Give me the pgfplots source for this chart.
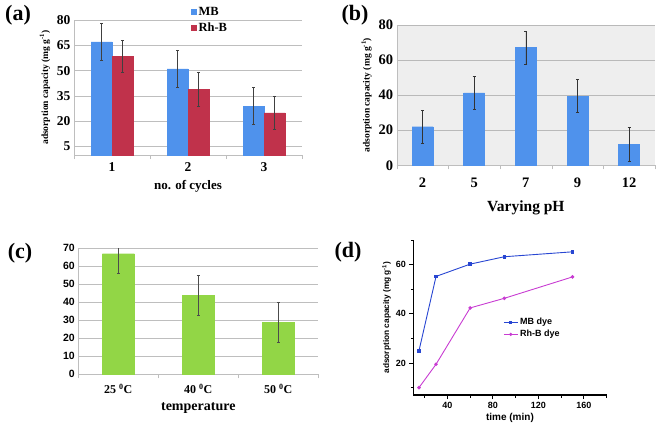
\documentclass[border=0pt]{standalone}
\usepackage{pgfplots}
\pgfplotsset{compat=1.18}
\usepackage{fontspec}
\setmainfont{Liberation Serif}
\newfontfamily\arial{Liberation Sans}
\definecolor{mbblue}{RGB}{79,146,236}
\definecolor{rhred}{RGB}{192,50,75}
\definecolor{grn}{RGB}{146,214,70}
\definecolor{dblue}{RGB}{40,70,210}
\definecolor{dmag}{RGB}{200,60,210}
\definecolor{gridc}{RGB}{190,190,190}
\begin{document}
\begin{tikzpicture}
\path[use as bounding box] (0pt,0pt) rectangle (661pt,432pt);

% ---------------- (a)
\begin{axis}[at={(74pt,277pt)}, anchor=south west, scale only axis, width=228pt, height=135pt,
 ybar=0pt, bar width=21pt, xmin=-0.5, xmax=2.5, ymin=0, ymax=80,
 xtick={0,1,2}, xticklabels={1,2,3}, minor xtick={-0.5,0.5,1.5,2.5},
 ytick={5,20,35,50,65,80},
 axis x line*=bottom, axis y line*=left, axis line style={gridc,-},
 ymajorgrids, grid style={gridc},
 major tick length=0pt, minor tick length=4pt, tick align=outside, minor tick style={gridc},
 tick label style={font=\bfseries\fontsize{13.5}{13.5}\selectfont},
 xticklabel style={yshift=-4pt},
 /pgf/number format/assume math mode=true,
 xlabel={no. of cycles}, xlabel style={font=\bfseries\fontsize{13}{13}\selectfont, yshift=-2pt},
 ylabel={adsorption capacity (mg g\textsuperscript{-1})}, ylabel style={font=\bfseries\fontsize{9.5}{10}\selectfont},
 error bars/y dir=both, error bars/y explicit,
 error bars/error bar style={black!75, line width=0.6pt},
 error bars/error mark options={rotate=90, mark size=1.5pt, black!75},
 legend style={at={(0.5,1.0)}, anchor=west, draw=none, fill=none, font=\bfseries\fontsize{12.5}{12.5}\selectfont, row sep=1.5pt},
 legend cell align=left,
 legend image code/.code={\fill[#1] (0pt,-2.5pt) rectangle (5pt,2.5pt);},
]
\addplot[fill=mbblue, draw=mbblue] coordinates {(0,67) +- (0,11) (1,51) +- (0,11) (2,29) +- (0,11)};
\addplot[fill=rhred, draw=rhred] coordinates {(0,58.5) +- (0,9.5) (1,39) +- (0,10) (2,25) +- (0,10)};
\legend{MB, Rh-B}
\end{axis}

% ---------------- (b)
\begin{axis}[at={(396.7pt,266.7pt)}, anchor=south west, scale only axis, width=258.3pt, height=140.3pt,
 ybar=0pt, bar width=21pt, xmin=-0.5, xmax=4.5, ymin=0, ymax=80,
 xtick={0,1,2,3,4}, xticklabels={2,5,7,9,12}, minor xtick={-0.5,0.5,1.5,2.5,3.5,4.5},
 ytick={0,20,40,60,80},
 axis background/.style={fill=gray!13},
 axis x line*=bottom, axis y line*=left, axis line style={gridc,-},
 ymajorgrids, grid style={gray!55},
 major tick length=0pt, minor tick length=4pt, tick align=outside, minor tick style={gridc},
 tick label style={font=\bfseries\fontsize{14.5}{14.5}\selectfont},
 xticklabel style={yshift=-9pt},
 /pgf/number format/assume math mode=true,
 xlabel={Varying pH}, xlabel style={font=\bfseries\fontsize{15.5}{15.5}\selectfont, yshift=-6pt},
 ylabel={adsorption capacity (mg g\textsuperscript{-1})}, ylabel style={font=\bfseries\fontsize{9.5}{10}\selectfont},
 error bars/y dir=both, error bars/y explicit,
 error bars/error bar style={black!80, line width=0.6pt},
 error bars/error mark options={rotate=90, mark size=1.5pt, black!80},
]
\addplot[fill=mbblue, draw=mbblue] coordinates {(0,22) +- (0,9.5) (1,41.3) +- (0,9.5) (2,67.2) +- (0,9.5) (3,39.5) +- (0,9.5) (4,12) +- (0,9.5)};
\end{axis}

% ---------------- (c)
\begin{axis}[at={(78.3pt,57.7pt)}, anchor=south west, scale only axis, width=240pt, height=126pt,
 ybar=0pt, bar width=32pt, xmin=-0.5, xmax=2.5, ymin=0, ymax=70,
 xtick={0,1,2}, xticklabels={25 \textsuperscript{0}C, 40 \textsuperscript{0}C, 50 \textsuperscript{0}C},
 minor xtick={-0.5,0.5,1.5,2.5},
 ytick={0,10,20,30,40,50,60,70},
 axis x line*=bottom, axis y line*=left, axis line style={gridc,-},
 ymajorgrids, grid style={gridc},
 major tick length=0pt, minor tick length=4pt, tick align=outside, minor tick style={gridc},
 xticklabel style={font=\bfseries\fontsize{12}{12}\selectfont, yshift=-6pt},
 yticklabel style={font=\arial\bfseries\fontsize{10.5}{10.5}\selectfont},
 /pgf/number format/assume math mode=true,
 xlabel={temperature}, xlabel style={font=\bfseries\fontsize{14}{14}\selectfont, yshift=-2pt},
 error bars/y dir=both, error bars/y explicit,
 error bars/error bar style={black!70, line width=0.6pt},
 error bars/error mark options={rotate=90, mark size=1.5pt, black!70},
]
\addplot[fill=grn, draw=grn] coordinates {(0,67) +- (0,11) (1,44) +- (0,11) (2,29) +- (0,11)};
\end{axis}

% ---------------- (d)
\begin{axis}[at={(413.3pt,37pt)}, anchor=south west, scale only axis, width=193.3pt, height=155pt,
 xmin=10, xmax=180, ymin=7, ymax=70,
 axis lines=left, axis line style={-, line width=1.1pt},
 xtick={40,80,120,160}, minor xtick={20,60,100,140,180},
 ytick={20,40,60}, minor ytick={10,30,50,70},
 tick align=outside, major tick length=4pt, minor tick length=2.5pt,
 every tick/.style={black, line width=0.9pt},
 tick label style={font=\arial\bfseries\fontsize{9}{9}\selectfont},
 /pgf/number format/assume math mode=true,
 xlabel={time (min)}, xlabel style={font=\arial\bfseries\fontsize{10}{10}\selectfont, yshift=3pt},
 ylabel={adsorption capacity (mg g\textsuperscript{-1})}, ylabel style={font=\arial\bfseries\fontsize{8.3}{8.3}\selectfont, yshift=-2pt},
 legend style={at={(0.45,0.43)}, anchor=west, draw=none, fill=none, font=\arial\bfseries\fontsize{9}{9}\selectfont, row sep=0pt},
 legend cell align=left,
 legend image post style={scale=0.8},
]
\addplot[dblue, line width=0.9pt, mark=square*, mark size=1.3pt] coordinates {(15,25) (30,55.2) (60,60.2) (90,63.2) (150,65.2)};
\addplot[dmag, line width=0.9pt, mark=*, mark size=1.3pt] coordinates {(15,10) (30,19.5) (60,42.4) (90,46.3) (150,55)};
\legend{MB dye, Rh-B dye}
\end{axis}

\node[font=\bfseries\fontsize{22}{22}\selectfont] at (18pt,417pt) {(a)};
\node[font=\bfseries\fontsize{22}{22}\selectfont] at (355pt,417pt) {(b)};
\node[font=\bfseries\fontsize{22}{22}\selectfont] at (20pt,179pt) {(c)};
\node[font=\bfseries\fontsize{22}{22}\selectfont] at (348pt,180pt) {(d)};
\end{tikzpicture}
\end{document}
